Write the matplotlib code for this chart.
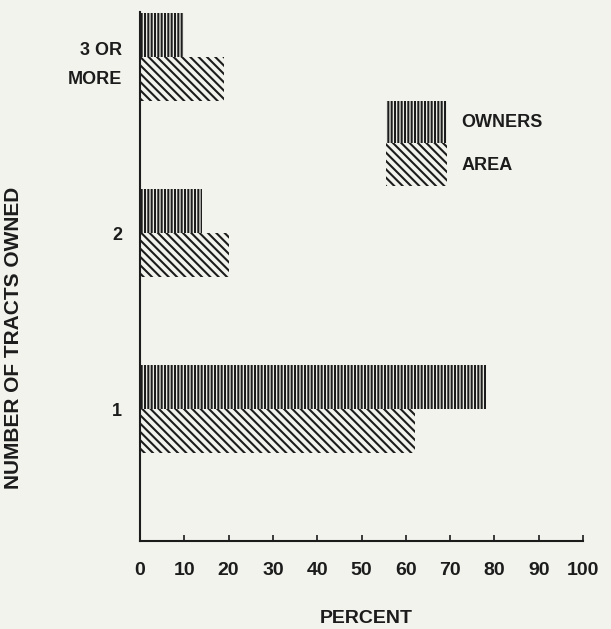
import numpy as np
import matplotlib
matplotlib.use("Agg")
import matplotlib.pyplot as plt
import matplotlib.patches as mpatches

# data (percent)
groups = ["1", "2", "3 OR\nMORE"]
owners = [78, 14, 10]
area = [62, 20, 19]
xticks = [0, 10, 20, 30, 40, 50, 60, 70, 80, 90, 100]

bg = "#f3f3ee"
ink = "#1c1c1c"

plt.rcParams["font.family"] = ["Liberation Sans", "DejaVu Sans"]
plt.rcParams["font.weight"] = "bold"
plt.rcParams["hatch.linewidth"] = 1.5

fig = plt.figure(figsize=(6.11, 6.29), dpi=100, facecolor=bg)
ax = fig.add_axes([140 / 611, (629 - 541) / 629, 443 / 611, 529 / 629])
ax.set_facecolor(bg)

ypos = np.arange(1, len(groups) + 1)
h = 0.25
ax.barh(ypos + h / 2, owners, height=h, facecolor=bg, edgecolor=ink,
        hatch="|||||", linewidth=0, label="OWNERS")
ax.barh(ypos - h / 2, area, height=h, facecolor=bg, edgecolor=ink,
        hatch="\\\\\\\\", linewidth=0, label="AREA")

ax.set_xlim(0, 100)
ax.set_ylim(0.25, 3.256)
ax.set_xticks(xticks)
ax.set_xticklabels([str(t) for t in xticks], fontsize=14, fontweight="bold", color=ink)
ax.set_yticks(ypos)
ax.set_yticklabels(groups, fontsize=13, fontweight="bold", color=ink,
                   linespacing=1.9)
for lbl in ax.get_yticklabels():
    lbl.set_multialignment("right")
ax.tick_params(axis="x", direction="in", length=4, width=1.2, pad=15, colors=ink)
ax.tick_params(axis="y", length=0, pad=13)

for s in ["top", "right"]:
    ax.spines[s].set_visible(False)
for s in ["left", "bottom"]:
    ax.spines[s].set_linewidth(1.5)
    ax.spines[s].set_color(ink)

ax.set_xlabel("PERCENT", fontsize=14, fontweight="bold", color=ink)
ax.xaxis.set_label_coords(0.51, -0.13)
ax.set_ylabel("NUMBER OF TRACTS OWNED", fontsize=15, fontweight="bold", color=ink)
ax.yaxis.set_label_coords(-0.265, 0.384)

handles = [
    mpatches.Patch(facecolor=bg, edgecolor=ink, hatch="|||||", linewidth=0, label="OWNERS"),
    mpatches.Patch(facecolor=bg, edgecolor=ink, hatch="\\\\\\\\", linewidth=0, label="AREA"),
]
leg = ax.legend(handles=handles, loc="upper left", bbox_to_anchor=(0.555, 0.832),
                frameon=False, fontsize=13, handlelength=3.4, handleheight=3.25,
                labelspacing=0, handletextpad=0.8, borderpad=0, borderaxespad=0)
for t in leg.get_texts():
    t.set_color(ink)
    t.set_fontweight("bold")

fig.savefig("out.png", dpi=100, facecolor=bg)
